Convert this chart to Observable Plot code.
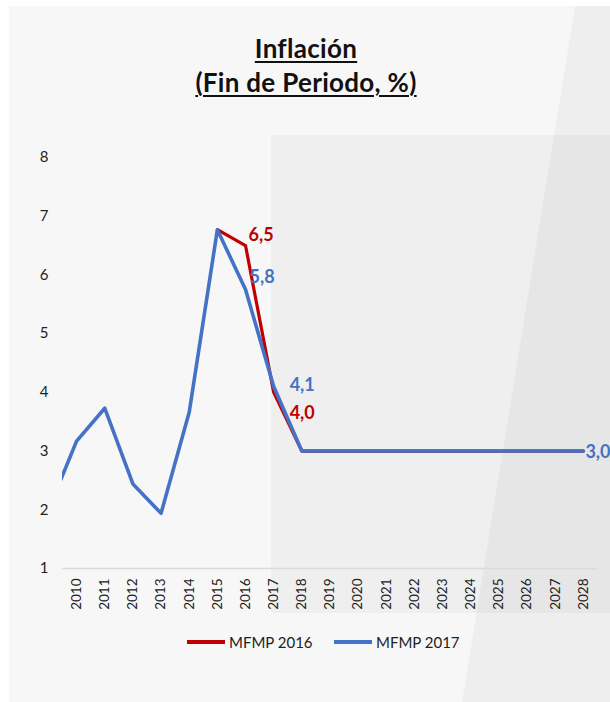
<!DOCTYPE html>
<html>
<head>
<meta charset="utf-8">
<script src="https://cdn.jsdelivr.net/npm/d3@7"></script>
<script src="https://cdn.jsdelivr.net/npm/@observablehq/plot@0.6"></script>
<style>
  html, body { margin: 0; padding: 0; background: #ffffff; }
  #wrap { position: relative; width: 610px; height: 702px; overflow: hidden; background: #ffffff; font-family: Lato, "DejaVu Sans", sans-serif; }
  #panel { position: absolute; left: 9px; top: 6px; right: 0; bottom: 0; background: #f7f7f7; }
  #wedge { position: absolute; left: 0; top: 0; width: 610px; height: 702px; background: rgba(0,0,0,0.035);
           clip-path: polygon(575px 6px, 610px 6px, 610px 702px, 462px 702px); }
  #fore { position: absolute; left: 271px; top: 135px; width: 339px; height: 478px; background: rgba(0,0,0,0.03); }
  #title { position: absolute; left: 0; top: 31px; width: 612px; text-align: center; font-weight: 700; font-size: 26px; line-height: 34px; color: #111; letter-spacing: 0.3px; }
  #title span { text-decoration: underline; text-decoration-thickness: 2px; text-underline-offset: 3px; }
  #chart { position: absolute; left: 0; top: 0; }
  #legend { position: absolute; top: 632px; left: 0; width: 610px; height: 20px; font-size: 15px; color: #222; }
  .item { position: absolute; top: 0; display: flex; align-items: center; height: 20px; }
  .sw { width: 38px; height: 4px; margin-right: 4px; }
</style>
</head>
<body>
<div id="wrap">
  <div id="panel"></div>
  <div id="fore"></div>
  <div id="wedge"></div>
  <div id="title"><span>Inflación</span><br><span>(Fin de Periodo, %)</span></div>
  <div id="chart"></div>
  <div id="legend">
    <div class="item" style="left:187px"><div class="sw" style="background:#c00000"></div>MFMP 2016</div>
    <div class="item" style="left:334px"><div class="sw" style="background:#4472c4"></div>MFMP 2017</div>
  </div>
</div>
<script>
const years2017 = [2009,2010,2011,2012,2013,2014,2015,2016,2017,2018,2019,2020,2021,2022,2023,2024,2025,2026,2027,2028];
const mfmp2017 = [2.0,3.17,3.73,2.44,1.94,3.66,6.77,5.75,4.1,3.0,3.0,3.0,3.0,3.0,3.0,3.0,3.0,3.0,3.0,3.0];
const years2016 = [2015,2016,2017,2018,2019,2020,2021,2022,2023,2024,2025,2026,2027,2028];
const mfmp2016 = [6.77,6.5,4.0,3.0,3.0,3.0,3.0,3.0,3.0,3.0,3.0,3.0,3.0,3.0];
const xTicks = [2010,2011,2012,2013,2014,2015,2016,2017,2018,2019,2020,2021,2022,2023,2024,2025,2026,2027,2028];
const yTicks = [1,2,3,4,5,6,7,8];
const labels2016 = [{year: 2016, value: 6.5, text: "6,5"}, {year: 2017, value: 4.0, text: "4,0"}];
const labels2017 = [{year: 2016, value: 5.75, text: "5,8"}, {year: 2017, value: 4.1, text: "4,1"}, {year: 2028, value: 3.0, text: "3,0"}];

const s2017 = years2017.map((y, i) => ({year: y, value: mfmp2017[i]}));
const s2016 = years2016.map((y, i) => ({year: y, value: mfmp2016[i]}));

const RED = "#c00000", BLUE = "#4472c4";
const lbl = {fontWeight: "bold", fontSize: 18, textAnchor: "start", style: "letter-spacing:0.5px"};

const chart = Plot.plot({
  width: 610,
  height: 702,
  marginLeft: 62,
  marginRight: 13,
  marginTop: 157,
  marginBottom: 134,
  style: {background: "transparent", fontFamily: "Lato, 'DejaVu Sans', sans-serif", color: "#222", overflow: "visible"},
  x: {domain: [2009.5, 2028.5], ticks: xTicks, tickFormat: d => String(d)},
  y: {domain: [1, 8], ticks: yTicks},
  marks: [
    Plot.ruleY([1], {stroke: "#d9d9d9", strokeWidth: 1.5}),
    Plot.axisY({ticks: yTicks, tickSize: 0, tickPadding: 14, fontSize: 15, label: null, tickFormat: d => String(d)}),
    Plot.axisX({ticks: xTicks, tickSize: 0, tickPadding: 10, tickRotate: -90, fontSize: 13.5, label: null, tickFormat: d => String(d)}),
    Plot.line(s2016, {x: "year", y: "value", stroke: RED, strokeWidth: 3.2, clip: true}),
    Plot.line(s2017, {x: "year", y: "value", stroke: BLUE, strokeWidth: 3.6, clip: true}),
    Plot.text([labels2016[0]], {x: "year", y: "value", text: "text", fill: RED, ...lbl, dx: 3, dy: -10}),
    Plot.text([labels2016[1]], {x: "year", y: "value", text: "text", fill: RED, ...lbl, dx: 16, dy: 21}),
    Plot.text([labels2017[0]], {x: "year", y: "value", text: "text", fill: BLUE, ...lbl, dx: 4, dy: -12}),
    Plot.text([labels2017[1]], {x: "year", y: "value", text: "text", fill: BLUE, ...lbl, dx: 16, dy: -1}),
    Plot.text([labels2017[2]], {x: "year", y: "value", text: "text", fill: BLUE, ...lbl, dx: 2, dy: 1})
  ]
});
document.getElementById("chart").appendChild(chart);
</script>
</body>
</html>
